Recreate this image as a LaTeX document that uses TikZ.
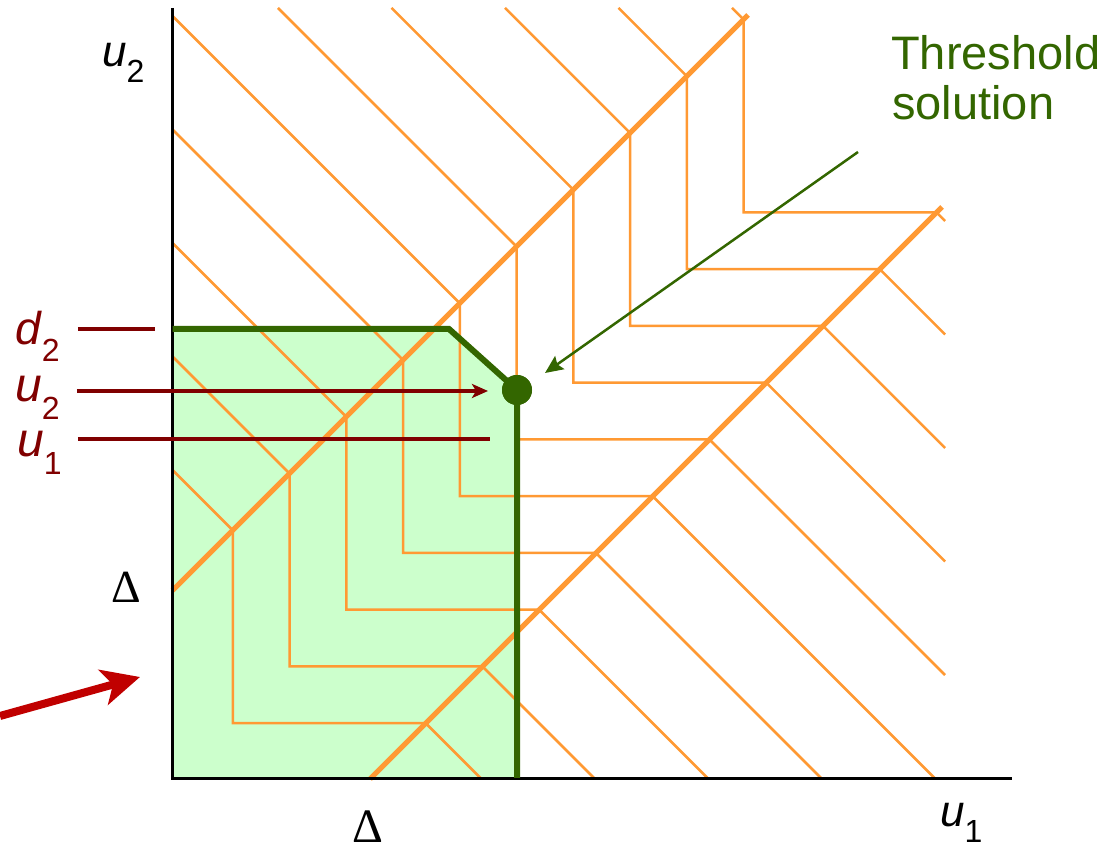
\documentclass[tikz,border=0pt]{standalone}
\usepackage{fontspec}
\setmainfont{Liberation Sans}
\newfontfamily\serifgreek{Liberation Serif}
\usetikzlibrary{arrows.meta}
\definecolor{orng}{HTML}{FF9933}
\definecolor{thgreen}{HTML}{336600}
\definecolor{lgreen}{HTML}{CCFFCC}
\definecolor{dred}{HTML}{800000}
\definecolor{bred}{HTML}{C00000}
\newcommand{\sublbl}[3]{\fontsize{#3}{#3}\selectfont\textit{#1}\raisebox{-0.36em}{\fontsize{32}{32}\selectfont #2}}
\tikzset{
  thinorange/.style={draw=orng, line width=2.5pt},
  thickorange/.style={draw=orng, line width=5pt},
  greenbound/.style={draw=thgreen, line width=6pt},
  axisline/.style={draw=black, line width=3pt},
  redline/.style={draw=dred, line width=4pt},
  lbl/.style={inner sep=0pt, anchor=base west},
}
\begin{document}
\begin{tikzpicture}[x=1pt,y=1pt]
\useasboundingbox (-172.5,-71) rectangle (942.5,779);
% green region
\fill[lgreen] (0,0) -- (0,450) -- (276.5,450) -- (344.5,389) -- (344.5,0) -- cycle;
% contour lines
\foreach \k in {0,...,9}{
  \pgfmathsetmacro{\c}{309+113.5*\k}
  \pgfmathsetmacro{\sx}{max(0,\c-771)}
  \pgfmathsetmacro{\sy}{min(\c,771)}
  \pgfmathsetmacro{\ax}{(\c-188.5)/2}
  \pgfmathsetmacro{\ay}{(\c+188.5)/2}
  \pgfmathsetmacro{\hy}{(\c-197.5)/2}
  \pgfmathsetmacro{\bx}{(\c+197.5)/2}
  \pgfmathsetmacro{\ex}{min(\c,772.5)}
  \pgfmathsetmacro{\ey}{max(0,\c-772.5)}
  \draw[thinorange] (\sx,\sy) -- (\ax,\ay) -- (\ax,\hy) -- (\bx,\hy) -- (\ex,\ey);
}
% thick diagonals
\coordinate (ua) at (0,188.5);
\coordinate (ub) at (575.5,764);
\coordinate (la) at (197.5,0);
\coordinate (lb) at (769.5,572);
\draw[thickorange] (ua) -- (ub);
\draw[thickorange] (la) -- (lb);
% axes
\coordinate (O) at (0,0);
\coordinate (ytop) at (0,771);
\coordinate (xend) at (839.5,0);
\draw[axisline] (ytop) -- (O) -- (xend);
% green boundary
\coordinate (g1) at (0,450);
\coordinate (g2) at (276.5,450);
\coordinate (gb) at (344.5,1);
\node[circle, fill=thgreen, minimum size=30pt, inner sep=0pt] (dot) at (344.5,389) {};
\draw[greenbound] (g1) -- (g2) -- (dot.center) -- (gb);
\node[circle, fill=thgreen, minimum size=30pt, inner sep=0pt] at (dot.center) {};
% labels
\node[lbl] (u2top) at (-70.5,712) {\sublbl{u}{2}{44}};
\node[lbl] (u1bot) at (767.5,-48) {\sublbl{u}{1}{44}};
\node[inner sep=0pt] (dbot) at (195.5,-48) {\serifgreek\fontsize{48}{48}\selectfont Δ};
\node[inner sep=0pt] (dleft) at (-46.5,192) {\serifgreek\fontsize{46}{46}\selectfont Δ};
\node[lbl, text=dred] (d2l) at (-157.5,434) {\sublbl{d}{2}{46}};
\node[lbl, text=dred] (u2l) at (-157.5,377) {\sublbl{u}{2}{48}};
\node[lbl, text=dred] (u1l) at (-155.5,322) {\sublbl{u}{1}{48}};
\node[lbl, text=thgreen] (thr) at (718.5,709) {\fontsize{47}{50}\selectfont Threshold};
\node[lbl, text=thgreen] (sol) at (719.5,659) {\fontsize{47}{50}\selectfont solution};
% red lines
\coordinate (d2a) at (-94.5,450);
\coordinate (d2b) at (-17.5,450);
\draw[redline] (d2a) -- (d2b);
\coordinate (u2a) at (-95.5,388);
\coordinate (u2b) at (315.5,388);
\draw[redline, -{Stealth[length=16pt,width=14pt,inset=4pt]}] (u2a) -- (u2b);
\coordinate (u1a) at (-94.5,340);
\coordinate (u1b) at (317.5,340);
\draw[redline] (u1a) -- (u1b);
% big red arrow
\coordinate (ra) at (-172.5,63);
\coordinate (rb) at (-32.5,102);
\draw[draw=bred, line width=8pt, -{Stealth[length=38pt,width=36pt,inset=10pt]}] (ra) -- (rb);
% green pointer arrow
\coordinate (ga) at (685.5,627);
\coordinate (gt) at (372.5,406);
\draw[draw=thgreen, line width=2.5pt, -{Stealth[length=18pt,width=16pt,inset=3pt]}] (ga) -- (gt);
\end{tikzpicture}
\end{document}
